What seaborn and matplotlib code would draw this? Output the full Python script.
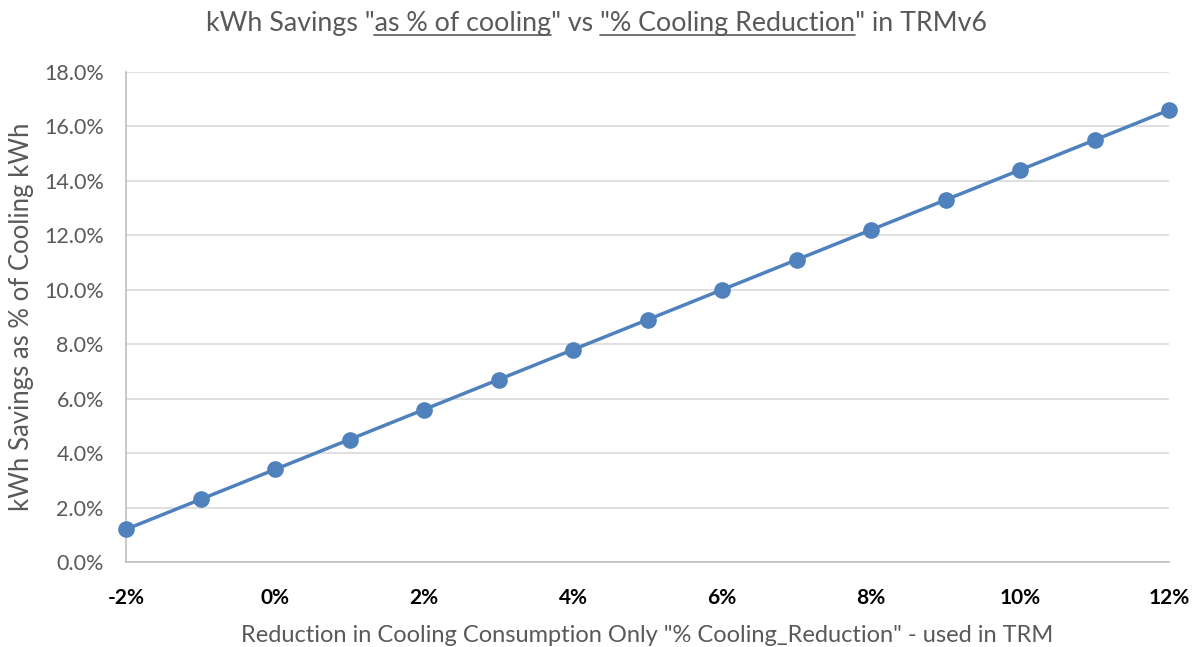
import matplotlib
matplotlib.use("Agg")
import matplotlib.pyplot as plt
import seaborn as sns
import pandas as pd
from matplotlib.lines import Line2D
from matplotlib.ticker import FuncFormatter

# Data
cooling_reduction = [-2, -1, 0, 1, 2, 3, 4, 5, 6, 7, 8, 9, 10, 11, 12]
savings_pct = [1.2, 2.3, 3.4, 4.5, 5.6, 6.7, 7.8, 8.9, 10.0, 11.1, 12.2, 13.3, 14.4, 15.5, 16.6]
x_ticks = [-2, 0, 2, 4, 6, 8, 10, 12]
y_ticks = [0, 2, 4, 6, 8, 10, 12, 14, 16, 18]

title_pieces = [("kWh Savings \"", False), ("as % of cooling", True), ("\" vs ", False),
                ("\"% Cooling Reduction", True), ("\" in TRMv6", False)]
xlabel = "Reduction in Cooling Consumption Only \"% Cooling_Reduction\" - used in TRM"
ylabel = "kWh Savings as % of Cooling kWh"

sns.set_theme(style="white")
plt.rcParams['font.family'] = ['Lato', 'DejaVu Sans']

df = pd.DataFrame({"x": cooling_reduction, "y": savings_pct})

fig = plt.figure(figsize=(11.92, 6.47), dpi=100)
ax = fig.add_axes([126/1192, 1 - 562/647, (1169-126)/1192, (562-72)/647])

line_color = "#4F81BD"
sns.lineplot(data=df, x="x", y="y", ax=ax, color=line_color, linewidth=2.5,
             marker="o", markersize=12, markeredgewidth=0, clip_on=False, zorder=3)

ax.set_xlim(-2, 12)
ax.set_ylim(0, 18)
ax.set_xticks(x_ticks)
ax.set_yticks(y_ticks)
ax.xaxis.set_major_formatter(FuncFormatter(lambda v, p: f"{v:.0f}%"))
ax.yaxis.set_major_formatter(FuncFormatter(lambda v, p: f"{v:.1f}%"))
ax.grid(axis="y", color="#D9D9D9", linewidth=1.2, zorder=0)
ax.grid(axis="x", visible=False)
ax.set_axisbelow(True)

for s in ["top", "right"]:
    ax.spines[s].set_visible(False)
for s in ["left", "bottom"]:
    ax.spines[s].set_color("#BFBFBF")
    ax.spines[s].set_linewidth(1.2)

ax.tick_params(axis="y", length=0, pad=16, labelsize=15.5, labelcolor="#595959")
ax.tick_params(axis="x", length=0, pad=19, labelsize=15, labelcolor="#000000")
for lbl in ax.get_xticklabels():
    lbl.set_fontweight("bold")

ax.set_xlabel(xlabel, fontsize=17, color="#595959", labelpad=12)
ax.set_ylabel(ylabel, fontsize=18.5, color="#595959", labelpad=7)

# Title with underlined parts
full_title = "".join(p for p, _ in title_pieces)
title_fs = 19.3
title_color = "#595959"
t = fig.text(0.5, 1 - 31/647, full_title, ha="center", va="baseline",
             fontsize=title_fs, color=title_color)
fig.canvas.draw()
r = fig.canvas.get_renderer()
bb = t.get_window_extent(r)
x0 = bb.x0
baseline_px = t.get_transform().transform(t.get_position())[1]

meas = fig.text(0, 0, "", fontsize=title_fs)
def width(s):
    meas.set_text(s)
    return meas.get_window_extent(r).width

prefix = ""
for piece, und in title_pieces:
    prefix += piece
    if und:
        end = x0 + width(prefix)
        start = end - width(piece)
        yy = (baseline_px - 3.5) / fig.bbox.height
        fig.add_artist(Line2D([start / fig.bbox.width, end / fig.bbox.width], [yy, yy],
                              transform=fig.transFigure, color=title_color, linewidth=1.2))
meas.remove()

fig.savefig("out.png", dpi=100)
